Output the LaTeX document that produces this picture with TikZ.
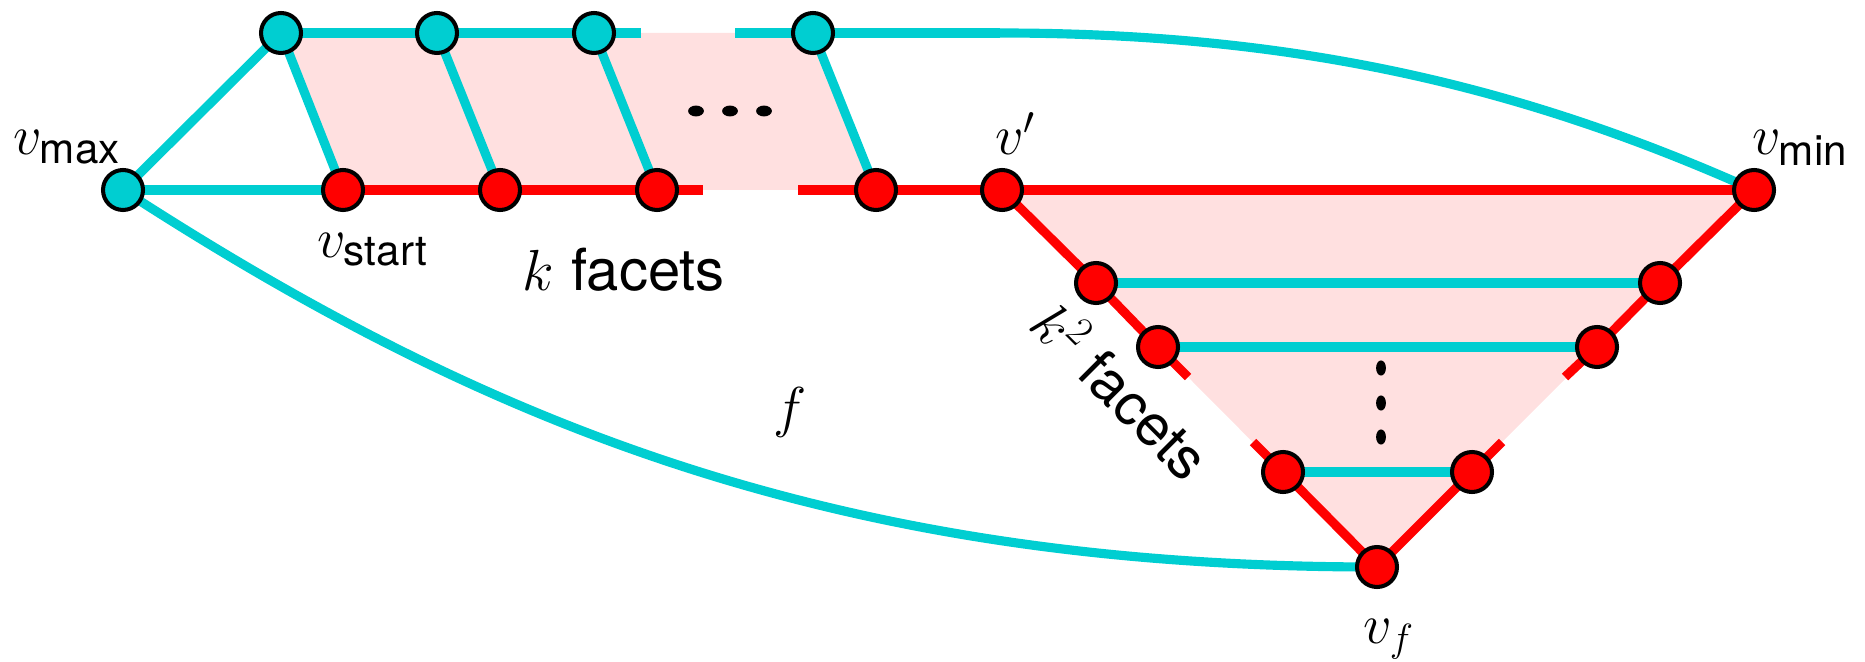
\documentclass[tikz,border=0pt]{standalone}
\usepackage{fix-cm}
\usepackage{fontspec}
\setsansfont{TeX Gyre Heros}
\usetikzlibrary{calc}
\definecolor{cy}{RGB}{0,206,209}
\definecolor{rd}{RGB}{255,0,0}
\definecolor{pk}{RGB}{255,224,224}
\newcommand{\sbtxt}[1]{\mbox{\fontsize{24}{24}\selectfont\sffamily #1}}
\pgfdeclarelayer{fillayer}
\pgfdeclarelayer{edgelayer}
\pgfsetlayers{fillayer,edgelayer,main}
\begin{document}
\begin{tikzpicture}[x=0.02cm,y=-0.02cm,
  vtx/.style={circle,draw=black,line width=2.3pt,minimum size=0.8cm,inner sep=0pt},
  cv/.style={vtx,fill=cy},
  rv/.style={vtx,fill=rd},
  ce/.style={draw=cy,line width=5.2pt},
  re/.style={draw=rd,line width=5.2pt},
  lbl/.style={inner sep=0pt,font=\fontsize{32}{38}\selectfont},
  big/.style={inner sep=0pt,font=\fontsize{33}{40}\selectfont}]
\useasboundingbox (0,0) rectangle (1865,662);
% vertices
\node[cv] (vmax) at (123,190) {};
\node[cv] (t1) at (281,33) {};
\node[cv] (t2) at (437,33) {};
\node[cv] (t3) at (594,33) {};
\node[cv] (t4) at (813,33) {};
\node[rv] (b1) at (343,190) {};
\node[rv] (b2) at (500,190) {};
\node[rv] (b3) at (657,190) {};
\node[rv] (b4) at (876,190) {};
\node[rv] (vp) at (1002,190) {};
\node[rv] (vmin) at (1754,190) {};
\node[rv] (L1) at (1096,283) {};
\node[rv] (L2) at (1158,347) {};
\node[rv] (L3) at (1283,472) {};
\node[rv] (R1) at (1660,283) {};
\node[rv] (R2) at (1597,347) {};
\node[rv] (R3) at (1472,472) {};
\node[rv] (vf) at (1377,567) {};
% free ends
\coordinate (gt1) at (641,33);
\coordinate (gt2) at (735,33);
\coordinate (tc) at (1000,33);
\coordinate (gb1) at (703,190);
\coordinate (gb2) at (798,190);
\coordinate (gl1) at (1188,377);
\coordinate (gl2) at (1253,442);
\coordinate (gr1) at (1565,377);
\coordinate (gr2) at (1502,442);
\begin{pgfonlayer}{fillayer}
\fill[pk] (t1.center) -- (t4.center) -- (b4.center) -- (b1.center) -- cycle;
\fill[pk] (vp.center) -- (vmin.center) -- (vf.center) -- cycle;
\end{pgfonlayer}
\begin{pgfonlayer}{edgelayer}
% top row
\draw[ce] (t1.center) -- (t2.center) -- (t3.center) -- (gt1);
\draw[ce] (gt2) -- (t4.center) -- (tc);
\draw[ce] (tc) .. controls (1300,33) and (1526,88) .. (vmin.center);
% left
\draw[ce] (vmax.center) -- (t1.center);
\draw[ce] (vmax.center) -- (b1.center);
\draw[ce] (vmax.center) .. controls (484,424) and (835,567) .. (vf.center);
% diagonals
\draw[ce] (t1.center) -- (b1.center);
\draw[ce] (t2.center) -- (b2.center);
\draw[ce] (t3.center) -- (b3.center);
\draw[ce] (t4.center) -- (b4.center);
% bottom row
\draw[re] (b1.center) -- (b2.center) -- (b3.center) -- (gb1);
\draw[re] (gb2) -- (b4.center) -- (vp.center) -- (vmin.center);
% triangle
\draw[re] (vp.center) -- (L1.center) -- (L2.center) -- (gl1);
\draw[re] (gl2) -- (L3.center) -- (vf.center);
\draw[re] (vmin.center) -- (R1.center) -- (R2.center) -- (gr1);
\draw[re] (gr2) -- (R3.center) -- (vf.center);
\draw[ce] (L1.center) -- (R1.center);
\draw[ce] (L2.center) -- (R2.center);
\draw[ce] (L3.center) -- (R3.center);
\end{pgfonlayer}
% dots
\fill[black] (696,111) ellipse [x radius=4.5pt, y radius=3.1pt];
\fill[black] (730,111) ellipse [x radius=4.5pt, y radius=3.1pt];
\fill[black] (764,111) ellipse [x radius=4.5pt, y radius=3.1pt];
\fill[black] (1381,368) ellipse [x radius=2.8pt, y radius=4.3pt];
\fill[black] (1381,403) ellipse [x radius=2.8pt, y radius=4.3pt];
\fill[black] (1381,437) ellipse [x radius=2.8pt, y radius=4.3pt];
% labels
\node[lbl,anchor=base west] (lmax) at (13,155) {$v_{\sbtxt{max}}$};
\node[lbl,anchor=base west] (lstart) at (317,257) {$v_{\sbtxt{start}}$};
\node[lbl,anchor=base west] (lprime) at (995,155) {$v'$};
\node[lbl,anchor=base west] (lmin) at (1752,155) {$v_{\sbtxt{min}}$};
\node[lbl,anchor=base west] (lvf) at (1363,643) {$v_f$};
\node[lbl,anchor=base] (lf) at (790,426) {$f$};
\node[big,anchor=base west] (kfac) at (522,290) {$k$ \textsf{facets}};
\node[big,anchor=base west,rotate=-45] (k2fac) at (1027,327) {$k^2$ \textsf{facets}};
\end{tikzpicture}
\end{document}
